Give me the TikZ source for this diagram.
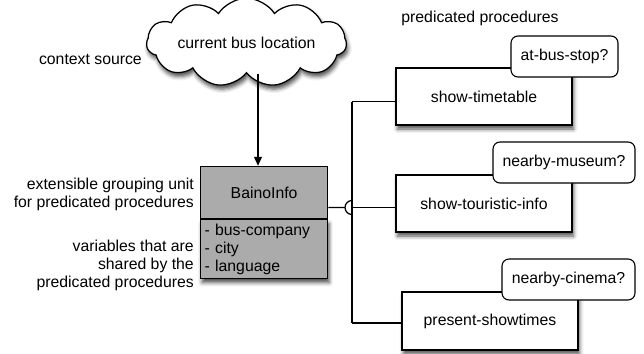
\documentclass[tikz,border=0pt]{standalone}
\usepackage{fontspec}
\setmainfont{Liberation Sans}
\usetikzlibrary{shapes.symbols,arrows.meta,shadows.blur}
\begin{document}
\begin{tikzpicture}[x=1pt,y=-1pt,
  every node/.style={font=\fontsize{15.8}{18}\selectfont, inner sep=0pt},
  lbl/.style={align=right},
  shad/.style={blur shadow={shadow xshift=1.5pt, shadow yshift=-4pt, shadow blur radius=4pt, shadow opacity=70}},
  proc/.style={draw, line width=1.25pt, fill=white, minimum width=176pt, minimum height=57pt, shad},
  cond/.style={draw, line width=1.1pt, fill=white, rounded corners=7pt, minimum height=41pt},
  conn/.style={line width=1.25pt}
]
\useasboundingbox (0,0) rectangle (644,353);

% cloud
\node[cloud, cloud puffs=11, cloud puff arc=115, aspect=3.2, draw, line width=1.25pt, fill=white,
      minimum width=200pt, minimum height=64pt, shad] (cloud) at (246.5,42.5) {current bus location};
\node[anchor=east] (ctx) at (142,59) {context source};

% BainoInfo
\node[draw, line width=1.25pt, fill=black!33, minimum width=127pt, minimum height=59pt,
      text width=119pt, inner xsep=4pt, align=left, anchor=north west, shad] (vars) at (200,219)
      {- bus-company\\- city\\- language};
\node[draw, line width=1.25pt, fill=black!33, minimum width=127pt, minimum height=52pt,
      anchor=south west] (baino) at (200,219) {BainoInfo};

\node[lbl, anchor=east] (ext) at (194,194) {extensible grouping unit\\for predicated procedures};
\node[lbl, anchor=east] (shared) at (194,265) {variables that are\\shared by the\\predicated procedures};

% arrow cloud -> BainoInfo
\coordinate (ax) at (258,0);
\draw[conn, -{Triangle[length=9pt,width=8pt]}] (cloud.south -| ax) -- (baino.north -| ax);

% procedures
\node (pplabel) at (480,18) {predicated procedures};
\node[proc] (p1) at (484,96.5) {show-timetable};
\node[proc] (p2) at (484,203.5) {show-touristic-info};
\node[proc, minimum height=58pt] (p3) at (490,321) {present-showtimes};

\node[cond, minimum width=107pt] (c1) at (564.5,56.5) {at-bus-stop?};
\node[cond, minimum width=142pt] (c2) at (564,162.5) {nearby-museum?};
\node[cond, minimum width=133pt] (c3) at (568.5,279.5) {nearby-cinema?};

% connectors
\coordinate (j) at (352,207.5);
\coordinate (jt) at (352,101.5);
\coordinate (jb) at (352,323);
\draw[conn] (baino.east |- j) -- ([xshift=-7pt]j) arc[start angle=180, end angle=90, radius=7pt];
\draw[conn] ([xshift=-7pt]j) arc[start angle=180, end angle=270, radius=7pt];
\draw[conn] (jt) -- (jb);
\draw[conn] (jt) -- (p1.west |- jt);
\draw[conn] (j) -- (p2.west |- j);
\draw[conn] (jb) -- (p3.west |- jb);
\end{tikzpicture}
\end{document}
